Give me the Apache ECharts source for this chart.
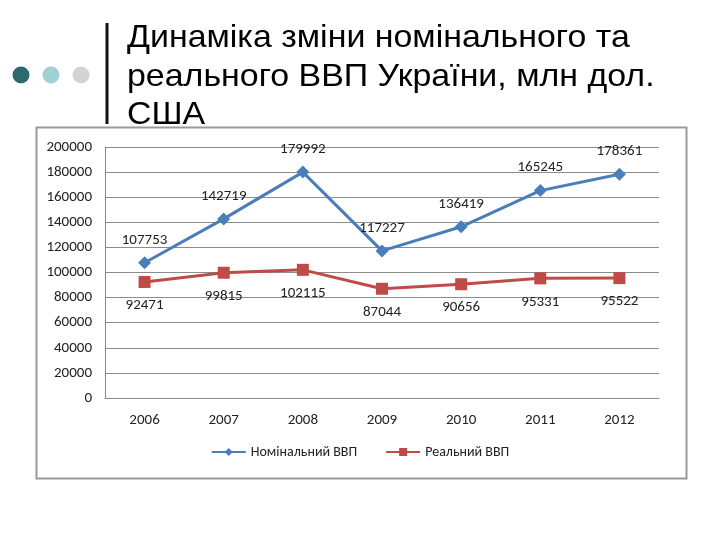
<!DOCTYPE html>
<html><head><meta charset="utf-8">
<script src="https://cdn.jsdelivr.net/npm/echarts@6/dist/echarts.min.js"></script>
<style>html,body{margin:0;padding:0;background:#fff}#c{width:720px;height:540px}</style>
</head><body><div id="c"></div>
<script>
const years = ['2006','2007','2008','2009','2010','2011','2012'];
const nominal = [107753,142719,179992,117227,136419,165245,178361];
const real = [92471,99815,102115,87044,90656,95331,95522];
const seriesNames = ['Номінальний ВВП','Реальний ВВП'];
const titleText = 'Динаміка зміни номінального та\nреального ВВП України, млн дол.\nСША';

const chart = echarts.init(document.getElementById('c'));
const ff = 'Carlito, Calibri, "Liberation Sans", sans-serif';
chart.setOption({
  animation:false,
  backgroundColor:'#fff',
  graphic:[
    {type:'text',x:127,y:19,z:-20,scaleX:1.06,style:{text:titleText,fontFamily:'"Liberation Sans", Arial, sans-serif',fontSize:32,lineHeight:38.5,fill:'#000'}},
    {type:'rect',shape:{x:36.5,y:127.5,width:650,height:351},style:{fill:'none',stroke:'#9a9a9a',lineWidth:2},z:10},
    {type:'rect',shape:{x:37,y:128,width:649,height:350},style:{fill:'#fff'},z:-10},
    {type:'line',shape:{x1:107,y1:23,x2:107,y2:124},style:{stroke:'#111',lineWidth:3}},
    {type:'circle',shape:{cx:21,cy:75,r:8.5},style:{fill:'#2e6a6c'}},
    {type:'circle',shape:{cx:51,cy:75,r:8.5},style:{fill:'#9fd0d2'}},
    {type:'circle',shape:{cx:81,cy:75,r:8.5},style:{fill:'#d3d3d3'}}
  ],
  grid:{left:105,right:61,top:147,bottom:142},
  legend:{bottom:76,left:'center',itemWidth:34,itemHeight:10,itemGap:28,
    textStyle:{fontFamily:ff,fontSize:14,color:'#222'},
    data:seriesNames},
  xAxis:{type:'category',data:years,boundaryGap:true,
    axisLine:{lineStyle:{color:'#888'}},axisTick:{show:false},
    axisLabel:{margin:15,fontFamily:ff,fontSize:15,color:'#222'}},
  yAxis:{type:'value',min:0,max:200000,interval:20000,
    axisLine:{show:true,lineStyle:{color:'#888'}},axisTick:{show:false},
    splitLine:{lineStyle:{color:'#8c8c8c',width:1}},
    axisLabel:{margin:13,fontFamily:ff,fontSize:15,color:'#222',formatter:v=>String(v)}},
  series:[
    {name:seriesNames[0],type:'line',data:nominal,symbol:'diamond',symbolSize:13,
     lineStyle:{color:'#4a7ebb',width:3},itemStyle:{color:'#4a7ebb'},
     label:{show:true,position:'top',distance:9,fontFamily:ff,fontSize:15,color:'#222'}},
    {name:seriesNames[1],type:'line',data:real,symbol:'rect',symbolSize:12,
     lineStyle:{color:'#be4b48',width:3},itemStyle:{color:'#be4b48'},
     label:{show:true,position:'bottom',distance:10,fontFamily:ff,fontSize:15,color:'#222'}}
  ]
});
</script></body></html>
